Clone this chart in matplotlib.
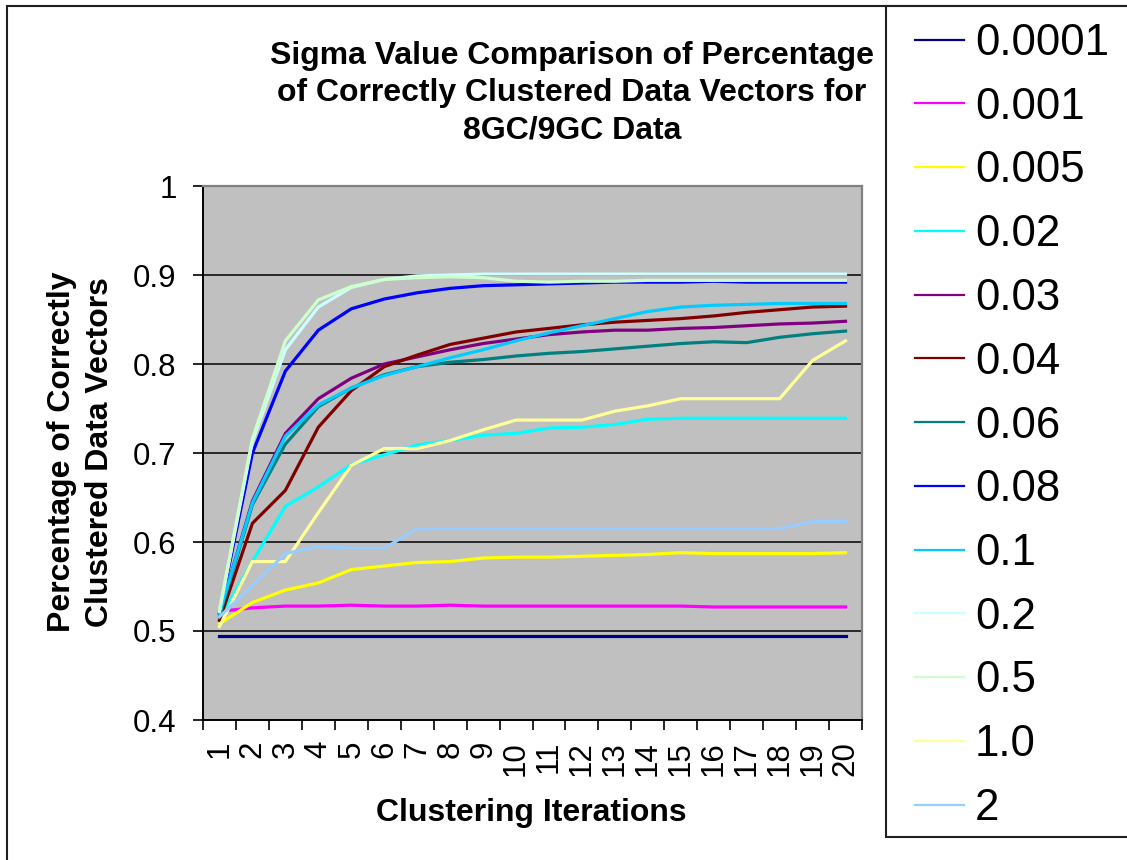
import matplotlib

matplotlib.use("Agg")
import matplotlib.pyplot as plt
from matplotlib.patches import Rectangle
from matplotlib.ticker import FixedLocator, NullFormatter

plt.rcParams["font.family"] = ["Liberation Sans", "DejaVu Sans"]

W, H = 1127, 860

iterations = list(range(1, 21))
sigma_labels = ["0.0001", "0.001", "0.005", "0.02", "0.03", "0.04", "0.06",
                "0.08", "0.1", "0.2", "0.5", "1.0", "2"]
colors = ["#000080", "#FF00FF", "#FFFF00", "#00FFFF", "#800080", "#800000", "#008080",
          "#0000FF", "#00CCFF", "#CCFFFF", "#CCFFCC", "#FFFF99", "#99CCFF"]

# percentage of correctly clustered vectors per iteration, one list per sigma
pct_0001 = [0.494, 0.494, 0.494, 0.494, 0.494, 0.494, 0.494, 0.494, 0.494, 0.494,
            0.494, 0.494, 0.494, 0.494, 0.494, 0.494, 0.494, 0.494, 0.494, 0.494]
pct_001 = [0.522, 0.526, 0.528, 0.528, 0.529, 0.528, 0.528, 0.529, 0.528, 0.528,
           0.528, 0.528, 0.528, 0.528, 0.528, 0.527, 0.527, 0.527, 0.527, 0.527]
pct_005 = [0.508, 0.532, 0.546, 0.554, 0.569, 0.573, 0.577, 0.578, 0.582, 0.583,
           0.583, 0.584, 0.585, 0.586, 0.588, 0.587, 0.587, 0.587, 0.587, 0.588]
pct_02 = [0.514, 0.578, 0.640, 0.662, 0.687, 0.698, 0.709, 0.714, 0.720, 0.722,
          0.728, 0.729, 0.732, 0.738, 0.739, 0.739, 0.739, 0.739, 0.739, 0.739]
pct_03 = [0.520, 0.646, 0.722, 0.761, 0.784, 0.800, 0.808, 0.816, 0.823, 0.828,
          0.833, 0.836, 0.838, 0.838, 0.840, 0.841, 0.843, 0.845, 0.846, 0.848]
pct_04 = [0.512, 0.621, 0.658, 0.729, 0.770, 0.797, 0.810, 0.822, 0.829, 0.836,
          0.840, 0.844, 0.847, 0.849, 0.851, 0.854, 0.858, 0.861, 0.864, 0.865]
pct_06 = [0.517, 0.642, 0.710, 0.752, 0.773, 0.788, 0.797, 0.802, 0.805, 0.809,
          0.812, 0.814, 0.817, 0.820, 0.823, 0.825, 0.824, 0.830, 0.834, 0.837]
pct_08 = [0.521, 0.700, 0.792, 0.838, 0.862, 0.873, 0.880, 0.885, 0.888, 0.889,
          0.890, 0.891, 0.892, 0.892, 0.892, 0.893, 0.892, 0.892, 0.892, 0.892]
pct_1 = [0.520, 0.644, 0.719, 0.754, 0.773, 0.787, 0.797, 0.807, 0.816, 0.826,
         0.835, 0.843, 0.851, 0.859, 0.864, 0.866, 0.867, 0.868, 0.868, 0.868]
pct_2 = [0.522, 0.713, 0.816, 0.864, 0.886, 0.895, 0.899, 0.900, 0.901, 0.901,
         0.901, 0.901, 0.901, 0.901, 0.901, 0.901, 0.901, 0.901, 0.901, 0.901]
pct_5 = [0.524, 0.716, 0.826, 0.872, 0.887, 0.895, 0.897, 0.898, 0.897, 0.893,
         0.892, 0.893, 0.893, 0.894, 0.894, 0.894, 0.894, 0.894, 0.894, 0.894]
pct_10 = [0.505, 0.578, 0.578, 0.633, 0.686, 0.705, 0.705, 0.714, 0.726, 0.737,
          0.737, 0.737, 0.747, 0.753, 0.761, 0.761, 0.761, 0.761, 0.804, 0.826]
pct_20 = [0.516, 0.551, 0.587, 0.595, 0.593, 0.593, 0.615, 0.615, 0.615, 0.615,
          0.615, 0.615, 0.615, 0.615, 0.615, 0.615, 0.615, 0.615, 0.623, 0.623]

series = [pct_0001, pct_001, pct_005, pct_02, pct_03, pct_04, pct_06,
          pct_08, pct_1, pct_2, pct_5, pct_10, pct_20]

fig = plt.figure(figsize=(W / 100, H / 100), dpi=100)
ax = fig.add_axes([203 / W, 1 - 720 / H, (862 - 203) / W, (720 - 186) / H])
ax.set_facecolor("#C0C0C0")

for vals, lab, col in zip(series, sigma_labels, colors):
    ax.plot(iterations, vals, color=col, lw=2.3, label=lab, solid_joinstyle="miter")

ax.set_xlim(0.5, 20.5)
ax.set_ylim(0.4, 1.0)
ax.set_yticks([0.4, 0.5, 0.6, 0.7, 0.8, 0.9, 1.0])
ax.set_yticklabels(["0.4", "0.5", "0.6", "0.7", "0.8", "0.9", "1"])
ax.yaxis.grid(True, color="black", lw=1.1)
ax.set_axisbelow(True)

# category axis: tick marks between categories, labels centred on them
ax.xaxis.set_major_locator(FixedLocator([i + 0.5 for i in range(0, 21)]))
ax.xaxis.set_major_formatter(NullFormatter())
ax.xaxis.set_minor_locator(FixedLocator(iterations))
ax.set_xticklabels([str(i) for i in iterations], minor=True, rotation=90)
ax.tick_params(axis="x", which="minor", length=0, pad=15, labelsize=22.5)
ax.tick_params(axis="x", which="major", length=7, width=1.2, direction="out")
ax.tick_params(axis="y", length=7, width=1.2, pad=12, labelsize=22.5)

for side in ("left", "bottom"):
    ax.spines[side].set_color("black")
    ax.spines[side].set_linewidth(1.4)
for side in ("top", "right"):
    ax.spines[side].set_color("#808080")
    ax.spines[side].set_linewidth(1.6)

fig.text(572 / W, 1 - 93 / H,
         "Sigma Value Comparison of Percentage\nof Correctly Clustered Data Vectors for\n8GC/9GC Data",
         ha="center", va="center", fontsize=23, fontweight="bold", linespacing=1.32)
fig.text(81 / W, 1 - 452 / H, "Percentage of Correctly\nClustered Data Vectors",
         ha="center", va="center", rotation=90, fontsize=23, fontweight="bold",
         linespacing=1.35)
fig.text(531 / W, 1 - 813 / H, "Clustering Iterations", ha="center", va="center",
         fontsize=23, fontweight="bold")

# outer chart border and legend box
fig.patches.append(Rectangle((7 / W, -0.05), 1.1, 1 - 6 / H + 0.05, transform=fig.transFigure,
                             fill=False, edgecolor="#202020", lw=1.5))
fig.patches.append(Rectangle((886 / W, 1 - 837 / H), 0.3, (837 - 6) / H,
                             transform=fig.transFigure, facecolor="white",
                             edgecolor="#202020", lw=1.5))

handles, labels = ax.get_legend_handles_labels()
leg = fig.legend(handles, labels, loc="upper left", bbox_to_anchor=(915 / W, 1 - 23 / H),
                 frameon=False, fontsize=31.5, borderpad=0, borderaxespad=0,
                 handlelength=1.12, handletextpad=0.25, labelspacing=0.52)
for line in leg.get_lines():
    line.set_linewidth(1.6)

fig.savefig("out.png", dpi=100)
